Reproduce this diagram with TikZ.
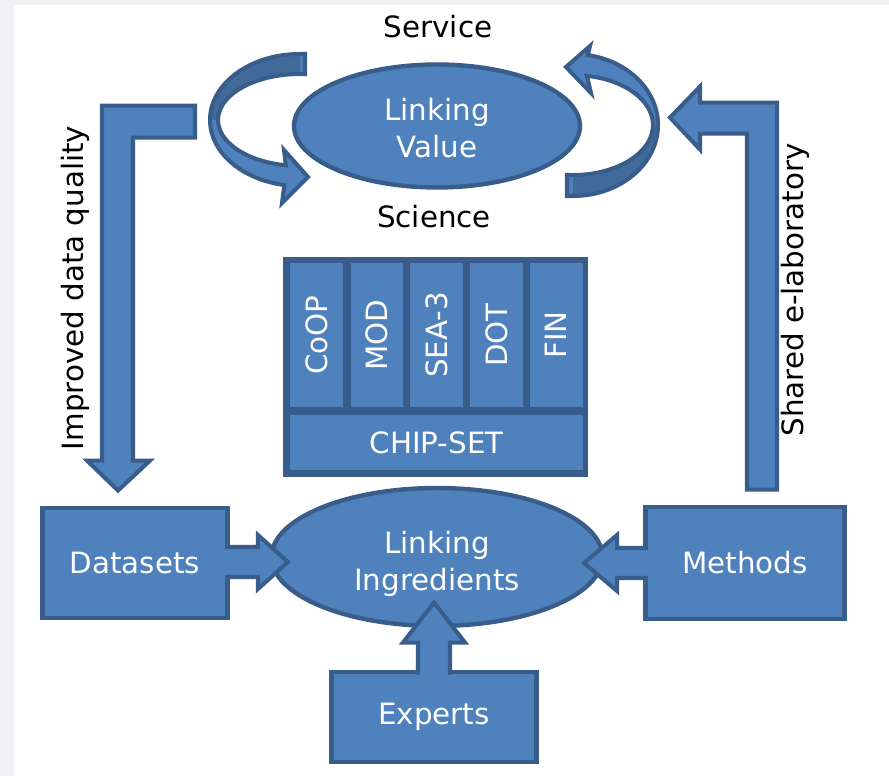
\documentclass[tikz,border=0pt]{standalone}
\usepackage{fontspec}
\setmainfont{DejaVu Sans}
\usetikzlibrary{calc,shapes.geometric}

\definecolor{boxblue}{HTML}{4F81BD}
\definecolor{edgeblue}{HTML}{385D8A}
\definecolor{backblue}{HTML}{41699A}
\definecolor{pagegray}{HTML}{F1F1F4}

\begin{document}
\begin{tikzpicture}[x=0.02cm,y=-0.02cm]
	\tikzstyle{blok}=[draw=edgeblue, fill=boxblue, line width=2.8pt, text=white, align=center, inner sep=0pt, font=\fontsize{16.7}{21}\selectfont]
	\tikzstyle{oval}=[blok, ellipse, line width=2.5pt]
	\tikzstyle{chip}=[fill=boxblue, text=white, inner sep=0pt, font=\fontsize{16.7}{21}\selectfont]
	\tikzstyle{fat}=[draw=edgeblue, fill=boxblue, line width=2.3pt]
	\tikzstyle{lbl}=[text=black, inner sep=0pt, font=\fontsize{16.7}{21}\selectfont]

	% page
	\fill[pagegray] (0,0) rectangle (889,776);
	\fill[white] (14,5) rectangle (889,776);
	\useasboundingbox (0,0) rectangle (889,776);

	\node[oval, minimum width=5.72cm, minimum height=2.46cm] (value) at (437,126) {\rule{0pt}{15pt}Linking\\Value};
	\node[oval, minimum width=6.62cm, minimum height=2.76cm] (ingr) at (437,557) {\rule{0pt}{21pt}Linking\\Ingredients};

	\node[blok, minimum width=3.7cm, minimum height=2.2cm] (data) at (135,563) {Datasets};
	\node[blok, minimum width=3.98cm, minimum height=2.24cm] (meth) at (745,563) {Methods};
	\node[blok, minimum width=4.1cm, minimum height=1.8cm] (expert) at (434,717) {Experts};

	% chip set
	\node[fill=edgeblue, inner sep=0pt, minimum width=6.1cm, minimum height=4.4cm] (chipset) at (435.5,367) {};
	\node[chip, minimum width=5.86cm, minimum height=1.1cm] (chipbar) at (436.5,442.5) {CHIP-SET};
	\foreach \x/\name/\txt in {316.5/coop/CoOP, 377/mod/MOD, 436.5/sea/SEA-3, 496.5/dot/DOT, 556/fin/FIN}
		\node[chip, rotate=90, minimum width=2.88cm, minimum height=1.06cm] (\name) at (\x,335) {\txt};

	\node[lbl] (service) at (438,27) {Service};
	\node[lbl] (science) at (434,217) {Science};
	\node[lbl, rotate=90] (quality) at (75,288) {Improved data quality};
	\node[lbl, rotate=90] (elab) at (795,290) {Shared e-laboratory};

	% loop arrows round the value
	\fill[boxblue] (305,54) -- (300,54) arc[start angle=-90, end angle=-260, x radius=90, y radius=66]
		-- (282,203) -- (308,177) -- (284,150) -- (285.8,165.3) arc[start angle=100, end angle=270, x radius=82, y radius=46] -- (305,74) -- cycle;
	\fill[backblue] (300,54) arc[start angle=-90, end angle=-180, x radius=90, y radius=66]
		-- (218,120) arc[start angle=180, end angle=270, x radius=82, y radius=46] -- cycle;
	\draw[edgeblue, line width=2.3pt] (305,54) -- (300,54) arc[start angle=-90, end angle=-260, x radius=90, y radius=66]
		-- (282,203) -- (308,177) -- (284,150) -- (285.8,165.3) arc[start angle=100, end angle=270, x radius=82, y radius=46] -- (305,74) -- cycle;

	\fill[boxblue] (567,196) -- (573,196) arc[start angle=90, end angle=-80, x radius=85, y radius=71]
		-- (590,46) -- (566,67) -- (591,93) -- (586.9,75.8) arc[start angle=-80, end angle=90, x radius=80, y radius=50] -- (567,175) -- cycle;
	\fill[backblue] (573,196) arc[start angle=90, end angle=0, x radius=85, y radius=71]
		-- (653,125) arc[start angle=0, end angle=90, x radius=80, y radius=50] -- cycle;
	\draw[edgeblue, line width=2.3pt] (567,196) -- (573,196) arc[start angle=90, end angle=-80, x radius=85, y radius=71]
		-- (590,46) -- (566,67) -- (591,93) -- (586.9,75.8) arc[start angle=-80, end angle=90, x radius=80, y radius=50] -- (567,175) -- cycle;

	% big side arrows
	\draw[fat] ($(data.north)+(-17,-15)$) -- ++(32,-30) -- ++(-17,0) -- ++(0,-323) -- ++(62,0) -- ++(0,-32)
		-- ++(-93,0) -- ++(0,355) -- ++(-15,0) -- cycle;
	\draw[fat] ($(meth.north)+(2,-15)$) -- ++(0,-356) -- ++(-47,0) -- ++(0,16) -- ++(-30,-32) -- ++(30,-31)
		-- ++(0,16) -- ++(77,0) -- ++(0,387) -- cycle;

	% inputs
	\draw[fat] ($(data.east)+(-5,-16)$) -- ++(33,0) -- ++(0,-12) -- ++(30,27) -- ++(-30,27) -- ++(0,-12) -- ++(-33,0);
	\draw[fat] ($(meth.west)+(5,-15)$) -- ++(-31,0) -- ++(0,-13) -- ++(-33,28) -- ++(33,28) -- ++(0,-13) -- ++(31,0);
	\draw[fat] ($(expert.north)+(-16,5)$) -- ++(0,-32) -- ++(-15,0) -- ++(31,-40) -- ++(31,40) -- ++(-15,0) -- ++(0,32);
\end{tikzpicture}
\end{document}
